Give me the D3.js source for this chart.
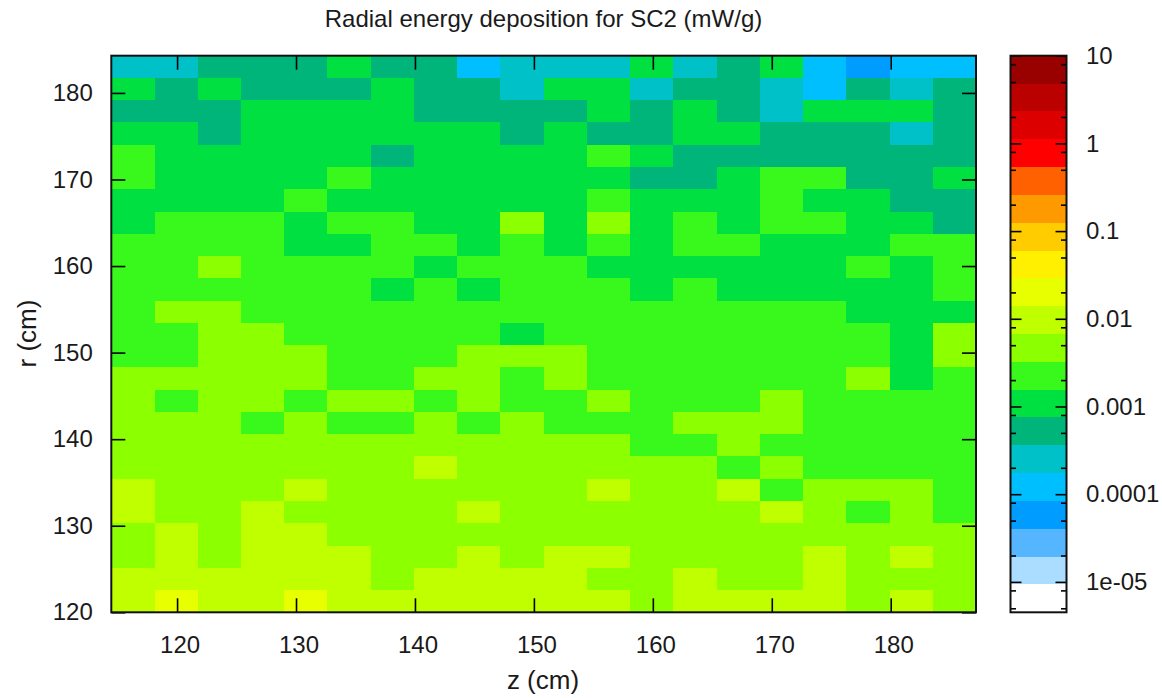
<!DOCTYPE html>
<html><head><meta charset="utf-8">
<script src="https://cdnjs.cloudflare.com/ajax/libs/d3/7.8.5/d3.min.js"></script>
<style>
html,body{margin:0;padding:0;background:#fff}
svg{display:block}
text{font-family:"Liberation Sans",Arial,sans-serif;fill:#1a1a1a}
.tick text{font-size:24px}
.tick line,.domain{stroke:#000}
</style></head><body>
<script>
const titleText = "Radial energy deposition for SC2 (mW/g)";
const xLabel = "z (cm)";
const yLabel = "r (cm)";
const zTicks = [120,130,140,150,160,170,180];
const rTicks = [120,130,140,150,160,170,180];
const cbMajor = [10,1,0.1,0.01,0.001,0.0001,0.00001];
const cbMinor = [8,5,2,0.8,0.5,0.2,0.08,0.05,0.02,0.008,0.005,0.002,0.0008,0.0005,0.0002,0.00008,0.00005,0.00002,0.000008,0.000005];
const zDomain = [114.47,187.17];
const rDomain = [120,184.3];
const cbDomain = [0.0000045,10];
const palette = ["#ffffff","#aaddff","#55b5ff","#009cff","#00bfff","#00c0c8","#00b57a","#00e040","#38f81c","#8cff00","#c0ff00","#e8ff00","#fff000","#ffcc00","#ff9900","#ff6000","#ff0000","#dd0000","#bb0000","#990000"];
// rows listed from top (largest r) to bottom (smallest r), mW/g
const deposition = [
[.00025,.00025,.00052,.00052,.00052,.00108,.00052,.00052,.00012,.00025,.00025,.00025,.00108,.00025,.00052,.00108,.00012,.000058,.00012,.00012],
[.00108,.00052,.00108,.00052,.00052,.00052,.00108,.00052,.00052,.00025,.00108,.00108,.00025,.00052,.00052,.00025,.00012,.00052,.00025,.00052],
[.00052,.00052,.00052,.00108,.00108,.00108,.00108,.00052,.00052,.00052,.00052,.00108,.00052,.00108,.00052,.00025,.00108,.00108,.00108,.00052],
[.00108,.00108,.00052,.00108,.00108,.00108,.00108,.00108,.00108,.00052,.00108,.00052,.00052,.00108,.00108,.00052,.00052,.00052,.00025,.00052],
[.00224,.00108,.00108,.00108,.00108,.00108,.00052,.00108,.00108,.00108,.00108,.00224,.00108,.00052,.00052,.00052,.00052,.00052,.00052,.00052],
[.00224,.00108,.00108,.00108,.00108,.00224,.00108,.00108,.00108,.00108,.00108,.00108,.00052,.00052,.00108,.00224,.00224,.00052,.00052,.00108],
[.00108,.00108,.00108,.00108,.00224,.00108,.00108,.00108,.00108,.00108,.00108,.00224,.00108,.00108,.00108,.00224,.00108,.00108,.00052,.00052],
[.00108,.00224,.00224,.00224,.00108,.00224,.00224,.00108,.00108,.00465,.00108,.00465,.00108,.00224,.00108,.00224,.00224,.00108,.00108,.00052],
[.00224,.00224,.00224,.00224,.00108,.00108,.00224,.00224,.00108,.00224,.00108,.00224,.00108,.00224,.00224,.00108,.00108,.00108,.00224,.00224],
[.00224,.00224,.00465,.00224,.00224,.00224,.00224,.00108,.00224,.00224,.00224,.00108,.00108,.00108,.00108,.00108,.00108,.00224,.00108,.00224],
[.00224,.00224,.00224,.00224,.00224,.00224,.00108,.00224,.00108,.00224,.00224,.00224,.00108,.00224,.00108,.00108,.00108,.00108,.00108,.00224],
[.00224,.00465,.00465,.00224,.00224,.00224,.00224,.00224,.00224,.00224,.00224,.00224,.00224,.00224,.00224,.00224,.00224,.00108,.00108,.00108],
[.00224,.00224,.00465,.00465,.00224,.00224,.00224,.00224,.00224,.00108,.00224,.00224,.00224,.00224,.00224,.00224,.00224,.00224,.00108,.00465],
[.00224,.00224,.00465,.00465,.00465,.00224,.00224,.00224,.00465,.00465,.00465,.00224,.00224,.00224,.00224,.00224,.00224,.00224,.00108,.00465],
[.00465,.00465,.00465,.00465,.00465,.00224,.00224,.00465,.00465,.00224,.00465,.00224,.00224,.00224,.00224,.00224,.00224,.00465,.00108,.00224],
[.00465,.00224,.00465,.00465,.00224,.00465,.00465,.00224,.00465,.00224,.00224,.00465,.00224,.00224,.00224,.00465,.00224,.00224,.00224,.00224],
[.00465,.00465,.00465,.00224,.00465,.00224,.00224,.00465,.00224,.00465,.00224,.00224,.00224,.00465,.00465,.00465,.00224,.00224,.00224,.00224],
[.00465,.00465,.00465,.00465,.00465,.00465,.00465,.00465,.00465,.00465,.00465,.00465,.00224,.00224,.00465,.00224,.00224,.00224,.00224,.00224],
[.00465,.00465,.00465,.00465,.00465,.00465,.00465,.00966,.00465,.00465,.00465,.00465,.00465,.00465,.00224,.00465,.00224,.00224,.00224,.00224],
[.00966,.00465,.00465,.00465,.00966,.00465,.00465,.00465,.00465,.00465,.00465,.00966,.00465,.00465,.00966,.00224,.00465,.00465,.00465,.00224],
[.00966,.00465,.00465,.00966,.00465,.00465,.00465,.00465,.00966,.00465,.00465,.00465,.00465,.00465,.00465,.00966,.00465,.00224,.00465,.00224],
[.00465,.00966,.00465,.00966,.00966,.00465,.00465,.00465,.00465,.00465,.00465,.00465,.00465,.00465,.00465,.00465,.00465,.00465,.00465,.00465],
[.00465,.00966,.00465,.00966,.00966,.00966,.00465,.00465,.00966,.00465,.00966,.00966,.00465,.00465,.00465,.00465,.00966,.00465,.00966,.00465],
[.00966,.00966,.00966,.00966,.00966,.00966,.00465,.00966,.00966,.00966,.00966,.00465,.00465,.00966,.00465,.00465,.00966,.00465,.00465,.00465],
[.00966,.02,.00966,.00966,.02,.00966,.00966,.00966,.00966,.00966,.00966,.00966,.00465,.00966,.00966,.00966,.00966,.00465,.00966,.00465]
];

const W=1162,H=698;
const plot={l:111.3,r:976,t:55.7,b:612.3};
const bar={l:1010.5,r:1066.5};
const svg=d3.select("body").append("svg").attr("width",W).attr("height",H);
const x=d3.scaleLinear().domain(zDomain).range([plot.l,plot.r]);
const y=d3.scaleLinear().domain(rDomain).range([plot.b,plot.t]);
const cbY=d3.scaleLog().domain(cbDomain).range([plot.b,plot.t]);
const color=d3.scaleQuantize().domain(cbDomain.map(Math.log10)).range(palette);

const nRows=deposition.length,nCols=deposition[0].length;
const dz=(zDomain[1]-zDomain[0])/nCols, dr=(rDomain[1]-rDomain[0])/nRows;
const cells=deposition.flatMap((row,i)=>row.map((v,j)=>({v,z0:zDomain[0]+j*dz,r1:rDomain[1]-i*dr})));
svg.append("g").attr("shape-rendering","crispEdges").selectAll("rect").data(cells).join("rect")
  .attr("x",d=>Math.round(x(d.z0))).attr("y",d=>Math.round(y(d.r1)))
  .attr("width",d=>Math.round(x(d.z0+dz))-Math.round(x(d.z0)))
  .attr("height",d=>Math.round(y(d.r1-dr))-Math.round(y(d.r1)))
  .attr("fill",d=>color(Math.log10(d.v)));

function styleAxis(g,noLabels){
  g.selectAll(".tick line").attr("stroke-width",1.6);
  g.select(".domain").remove();
  if(noLabels) g.selectAll("text").remove();
  return g;
}
const tl=14;
svg.append("g").attr("transform",`translate(0,${plot.b})`)
  .call(d3.axisBottom(x).tickValues(zTicks).tickSize(-tl).tickSizeOuter(0).tickPadding(23.4).tickFormat(d3.format("d")))
  .call(g=>styleAxis(g,false))
  .call(g=>g.selectAll("text").attr("dx",2.5));
svg.append("g").attr("transform",`translate(0,${plot.t})`)
  .call(d3.axisTop(x).tickValues(zTicks).tickSize(-tl).tickSizeOuter(0))
  .call(g=>styleAxis(g,true));
svg.append("g").attr("transform",`translate(${plot.l},0)`)
  .call(d3.axisLeft(y).tickValues(rTicks).tickSize(-tl).tickSizeOuter(0).tickPadding(18.5).tickFormat(d3.format("d")))
  .call(g=>styleAxis(g,false));
svg.append("g").attr("transform",`translate(${plot.r},0)`)
  .call(d3.axisRight(y).tickValues(rTicks).tickSize(-tl).tickSizeOuter(0))
  .call(g=>styleAxis(g,true));
svg.append("rect").attr("x",plot.l).attr("y",plot.t).attr("width",plot.r-plot.l).attr("height",plot.b-plot.t)
  .attr("fill","none").attr("stroke","#111").attr("stroke-width",2);

// colour bar
const logs=Math.log10(cbDomain[0]), step=(Math.log10(cbDomain[1])-logs)/palette.length;
svg.append("g").attr("shape-rendering","crispEdges").selectAll("rect").data(palette).join("rect")
  .attr("x",bar.l).attr("width",bar.r-bar.l)
  .attr("y",(c,i)=>Math.round(cbY(Math.pow(10,logs+(i+1)*step))))
  .attr("height",(c,i)=>Math.round(cbY(Math.pow(10,logs+i*step)))-Math.round(cbY(Math.pow(10,logs+(i+1)*step))))
  .attr("fill",c=>c);
const fmtCb=d=>d>=0.0001?String(d):"1e-05";
svg.append("g").attr("transform",`translate(${bar.r},0)`)
  .call(d3.axisRight(cbY).tickValues(cbMajor).tickSize(-11).tickPadding(19.5).tickSizeOuter(0).tickFormat(fmtCb))
  .call(g=>styleAxis(g,false));
svg.append("g").attr("transform",`translate(${bar.l},0)`)
  .call(d3.axisLeft(cbY).tickValues(cbMajor).tickSize(-11).tickSizeOuter(0))
  .call(g=>styleAxis(g,true));
svg.append("g").attr("transform",`translate(${bar.r},0)`)
  .call(d3.axisRight(cbY).tickValues(cbMinor).tickSize(-5.5).tickSizeOuter(0))
  .call(g=>styleAxis(g,true));
svg.append("g").attr("transform",`translate(${bar.l},0)`)
  .call(d3.axisLeft(cbY).tickValues(cbMinor).tickSize(-5.5).tickSizeOuter(0))
  .call(g=>styleAxis(g,true));
svg.append("rect").attr("x",bar.l).attr("y",plot.t).attr("width",bar.r-bar.l).attr("height",plot.b-plot.t)
  .attr("fill","none").attr("stroke","#111").attr("stroke-width",2);

svg.append("text").attr("x",543.5).attr("y",27).attr("text-anchor","middle").style("font-size","24px").text(titleText);
svg.append("text").attr("x",543).attr("y",689).attr("text-anchor","middle").style("font-size","26px").text(xLabel);
svg.append("text").attr("transform","translate(36,333.5) rotate(-90)").attr("text-anchor","middle").style("font-size","26px").text(yLabel);
</script>
</body></html>
